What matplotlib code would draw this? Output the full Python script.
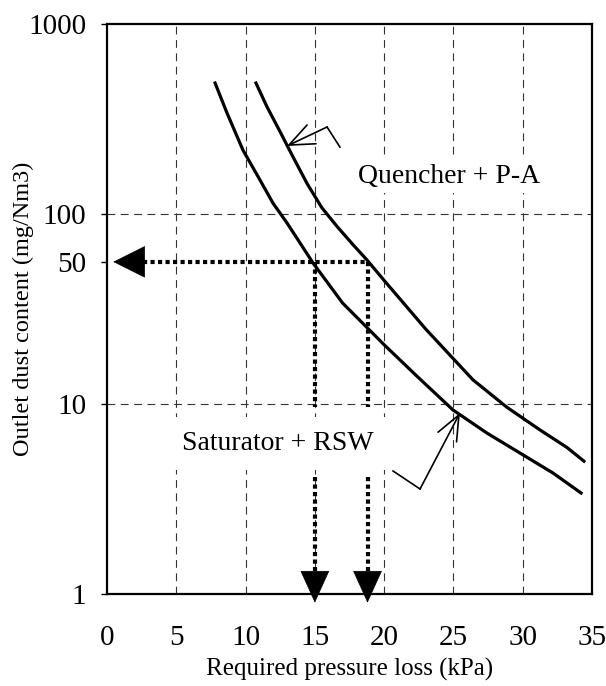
import numpy as np
import matplotlib
matplotlib.use('Agg')
import matplotlib.pyplot as plt

plt.rcParams['font.family'] = ['Liberation Serif', 'DejaVu Serif']

# curves (pressure loss kPa, dust mg/Nm3)
sat_x = [7.8, 8.66, 9.81, 11.04, 11.98, 12.99, 13.93, 14.87, 17.0, 20.0, 22.37, 24.97, 27.42, 29.8, 32.19, 34.21]
sat_y = [489, 340, 217, 151, 114, 89.7, 70.4, 55.2, 34, 20.5, 14, 9.3, 7.03, 5.52, 4.33, 3.4]
que_x = [10.75, 11.55, 12.48, 13.42, 14.43, 15.5, 16.6, 17.75, 18.76, 20.0, 23.0, 26.41, 28.87, 31.25, 33.2, 34.42]
que_y = [489, 366, 272, 200, 145, 108, 86, 69, 57.3, 44.7, 24.8, 13.4, 9.6, 7.3, 5.9, 5.0]

level = 56          # dotted guide level, labelled 50
guide_x = [15, 18.8]

yticks = [1, 10, level, 100, 1000]
ylabels = ['1', '10', '50', '100', '1000']
xticks = [0, 5, 10, 15, 20, 25, 30, 35]

fig = plt.figure(figsize=(6.06, 6.86), dpi=100)
ax = fig.add_axes([107/606, 92/686, 485/606, 570/686])
ax.set_yscale('log')
ax.set_xlim(0, 35)
ax.set_ylim(1, 1000)

for v in [5, 10, 15, 20, 25, 30]:
    ax.axvline(v, color='#333333', lw=0.8, ls=(0, (7, 5)), zorder=1)
for v in [10, 100]:
    ax.axhline(v, color='#333333', lw=0.8, ls=(0, (7, 5)), zorder=1)

ax.plot(sat_x, sat_y, color='black', lw=2.3, zorder=3)
ax.plot(que_x, que_y, color='black', lw=2.3, zorder=3)

dots = (0, (1.0, 0.8))
# horizontal dotted arrow
ax.plot([2.6, guide_x[1]], [level, level], color='black', lw=3, ls=dots, zorder=4)
ax.annotate('', xy=(0.45, level), xytext=(2.6, level),
            arrowprops=dict(arrowstyle='-|>,head_length=1.1,head_width=0.55',
                            mutation_scale=20, color='black', lw=0.5,
                            shrinkA=0, shrinkB=0))
# vertical dotted arrows
for gx in guide_x:
    ax.plot([gx, gx], [level, 9.6], color='black', lw=3, ls=dots, zorder=4)
    ax.plot([gx, gx], [4.13, 1.29], color='black', lw=3, ls=dots, zorder=4, clip_on=False)
    ax.annotate('', xy=(gx, 0.90), xytext=(gx, 1.29), annotation_clip=False,
                arrowprops=dict(arrowstyle='-|>,head_length=1.1,head_width=0.5',
                                mutation_scale=20, color='black', lw=0.5,
                                shrinkA=0, shrinkB=0))

# labels with leader lines
ax.text(24.7, 157, 'Quencher + P-A', fontsize=20, ha='center', va='center', zorder=5,
        bbox=dict(facecolor='white', edgecolor='none', pad=3))
ax.plot([16.81, 15.88], [225, 287], color='black', lw=1.2)
ax.annotate('', xy=(12.99, 228), xytext=(15.88, 287),
            arrowprops=dict(arrowstyle='->,head_length=1.2,head_width=0.5',
                            mutation_scale=15, color='black', lw=1.2,
                            shrinkA=0, shrinkB=0))

ax.text(12.3, 6.2, 'Saturator + RSW', fontsize=20, ha='center', va='center', zorder=5,
        bbox=dict(facecolor='white', edgecolor='none', pad=10))
ax.plot([20.64, 22.59], [4.44, 3.57], color='black', lw=1.2)
ax.annotate('', xy=(25.47, 8.97), xytext=(22.59, 3.57),
            arrowprops=dict(arrowstyle='->,head_length=1.2,head_width=0.5',
                            mutation_scale=15, color='black', lw=1.2,
                            shrinkA=0, shrinkB=0))

ax.set_yticks(yticks)
ax.set_yticklabels(ylabels)
ax.yaxis.set_minor_locator(matplotlib.ticker.NullLocator())
ax.set_xticks(xticks)
ax.tick_params(axis='y', length=4, width=1, labelsize=21, pad=11)
ax.tick_params(axis='x', length=0, labelsize=21, pad=22)
for s in ax.spines.values():
    s.set_linewidth(1.6)

ax.set_xlabel('Required pressure loss (kPa)', fontsize=18, labelpad=5)
ax.set_ylabel('Outlet dust content (mg/Nm3)', fontsize=17.5)
ax.yaxis.set_label_coords(-0.15, 0.5)

plt.savefig('out.png', dpi=100)
